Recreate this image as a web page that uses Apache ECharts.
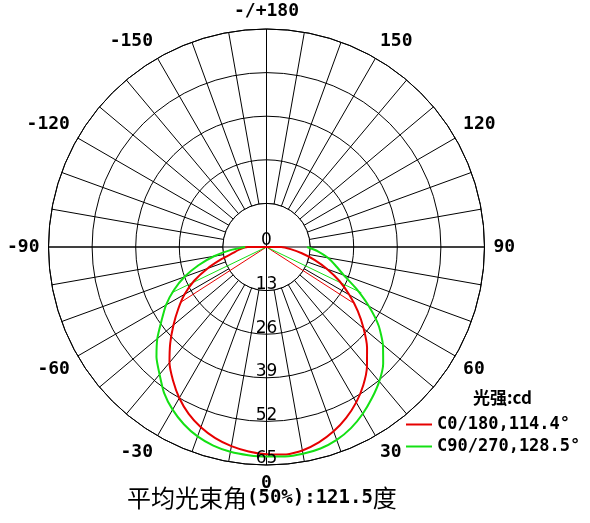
<!DOCTYPE html>
<html>
<head>
<meta charset="utf-8">
<script src="https://cdn.jsdelivr.net/npm/echarts@6/dist/echarts.min.js"></script>
<style>html,body{margin:0;padding:0;background:#fff}#c{width:590px;height:523px}</style>
</head>
<body>
<div id="c"></div>
<script>
// angles measured from nadir (0 = down), positive to the right
const angles = [-90,-85,-80,-75,-70,-65,-60,-55,-50,-45,-40,-35,-30,-25,-20,-15,-10,-5,0,5,10,15,20,25,30,35,40,45,50,55,60,65,70,75,80,85,90];
// C0/180 intensity (cd)
const c0 = [5.6,8.0,10.1,13.8,18.7,23.8,28.2,32.1,36.2,40.6,45.0,48.6,52.0,54.9,57.2,59.0,60.3,61.2,61.8,62.1,61.6,60.3,58.5,56.2,53.5,50.3,46.6,42.4,37.8,33.2,28.5,24.0,19.3,14.8,10.7,7.2,4.4];
// C90/270 intensity (cd)
const c90 = [6.4,10.8,15.9,21.0,26.0,30.5,34.6,38.2,42.5,46.4,49.6,53.2,56.0,58.3,60.1,61.3,62.0,62.3,62.5,62.7,62.6,62.2,61.2,59.6,57.4,54.9,52.3,49.2,45.3,40.8,35.2,29.6,24.5,21.3,18.6,15.5,12.1];
const seriesNames = ['C0/180,114.4°','C90/270,128.5°'];
const beamAngles = [114.4, 128.5];
const beamRadii = [30.6, 31.4];
const radiusTicks = [0,13,26,39,52,65];
const angleTickStep = 30;

const toPolar = a => ((a % 360) + 360) % 360;
function curve(vals, closeToCenter) {
  const d = angles.map((a, i) => [vals[i], toPolar(a)]);
  if (closeToCenter) { d.unshift([0, 0]); d.push([0, 0]); }
  return d;
}
function beam(totalAngle, r) {
  return [[r, toPolar(-totalAngle/2)], [0, 0], [r, toPolar(totalAngle/2)]];
}
const mono = '"DejaVu Sans Mono", monospace';
const red = '#e60000', green = '#14e014', grid = '#000';

const chart = echarts.init(document.getElementById('c'));
chart.setOption({
  animation: false,
  backgroundColor: '#fff',
  polar: { center: [266.5, 247], radius: 218 },
  angleAxis: {
    type: 'value', min: 0, max: 360, interval: 10, startAngle: -90, clockwise: false,
    axisLine: { show: true, lineStyle: { color: grid, width: 1 } },
    axisTick: { show: false },
    splitLine: { show: true, lineStyle: { color: grid, width: 1 } },
    axisLabel: {
      margin: 9, fontFamily: mono, fontWeight: 'bold', fontSize: 18, color: '#000',
      formatter: v => {
        if (v % angleTickStep !== 0 || v === 360) return '';
        if (v === 180) return '-/+180';
        return v > 180 ? String(v - 360) : String(v);
      }
    }
  },
  radiusAxis: {
    type: 'value', min: 0, max: 65, interval: 13,
    axisLine: { show: false }, axisTick: { show: false }, axisLabel: { show: false },
    splitLine: { show: true, lineStyle: { color: grid, width: 1 } }
  },
  title: [
    { text: '光强:cd', left: 468, top: 384,
      textStyle: { fontFamily: '"Noto Sans CJK SC", ' + mono, fontSize: 17, fontWeight: 'bold', color: '#000' } },
    { text: '{cn|平均光束角}{num|(50%):121.5}{cn|度}', left: 127, top: 486, padding: 0,
      textStyle: { rich: {
        cn: { fontFamily: '"Noto Sans CJK SC"', fontSize: 24, fontWeight: 'normal', color: '#000' },
        num: { fontFamily: mono, fontWeight: 'bold', fontSize: 19, color: '#000' }
      } } }
  ],
  legend: {
    data: seriesNames, orient: 'vertical', left: 401, top: 411, itemWidth: 26, itemHeight: 2,
    itemGap: 5, icon: 'rect', selectedMode: false,
    textStyle: { fontFamily: mono, fontWeight: 'bold', fontSize: 17, color: '#000' }
  },
  series: [
    { type: 'custom', coordinateSystem: 'polar', z: 1, silent: true, data: [[13, 0]],
      renderItem: (params, api) => {
        const c = api.coord([0, 0]);
        const p = api.coord([api.value(0), 0]);
        const r = Math.hypot(p[0] - c[0], p[1] - c[1]);
        return { type: 'circle', shape: { cx: c[0], cy: c[1], r: r },
          style: { fill: '#fff', stroke: grid, lineWidth: 1 } };
      } },
    { type: 'line', coordinateSystem: 'polar', z: 2, symbol: 'none', silent: true,
      lineStyle: { color: grid, width: 1 }, data: [[65, 0], [0, 0], [65, 180]] },
    { type: 'line', coordinateSystem: 'polar', z: 2, symbol: 'none', silent: true,
      lineStyle: { color: grid, width: 1 }, data: [[65, 90], [0, 0], [65, 270]] },
    { type: 'scatter', coordinateSystem: 'polar', z: 4, symbolSize: 0, silent: true,
      itemStyle: { color: '#000', opacity: 1 },
      data: radiusTicks.map(v => [v, 0]),
      label: { show: true, position: 'inside', offset: [0, -6], formatter: p => String(p.value[0]),
        fontFamily: '"DejaVu Sans"', fontSize: 17, color: '#000', opacity: 1 } },
    { name: 'beamRed', type: 'line', coordinateSystem: 'polar', z: 3, symbol: 'none',
      lineStyle: { color: red, width: 1 }, data: beam(beamAngles[0], beamRadii[0]) },
    { name: 'beamGreen', type: 'line', coordinateSystem: 'polar', z: 3, symbol: 'none',
      lineStyle: { color: green, width: 1 }, data: beam(beamAngles[1], beamRadii[1]) },
    { name: seriesNames[0], type: 'line', coordinateSystem: 'polar', z: 3, symbol: 'none', smooth: 0.2,
      itemStyle: { color: red }, lineStyle: { color: red, width: 2 }, data: curve(c0, true) },
    { name: seriesNames[1], type: 'line', coordinateSystem: 'polar', z: 3, symbol: 'none', smooth: 0.2,
      itemStyle: { color: green }, lineStyle: { color: green, width: 2 }, data: curve(c90, false) }
  ]
});
</script>
</body>
</html>
